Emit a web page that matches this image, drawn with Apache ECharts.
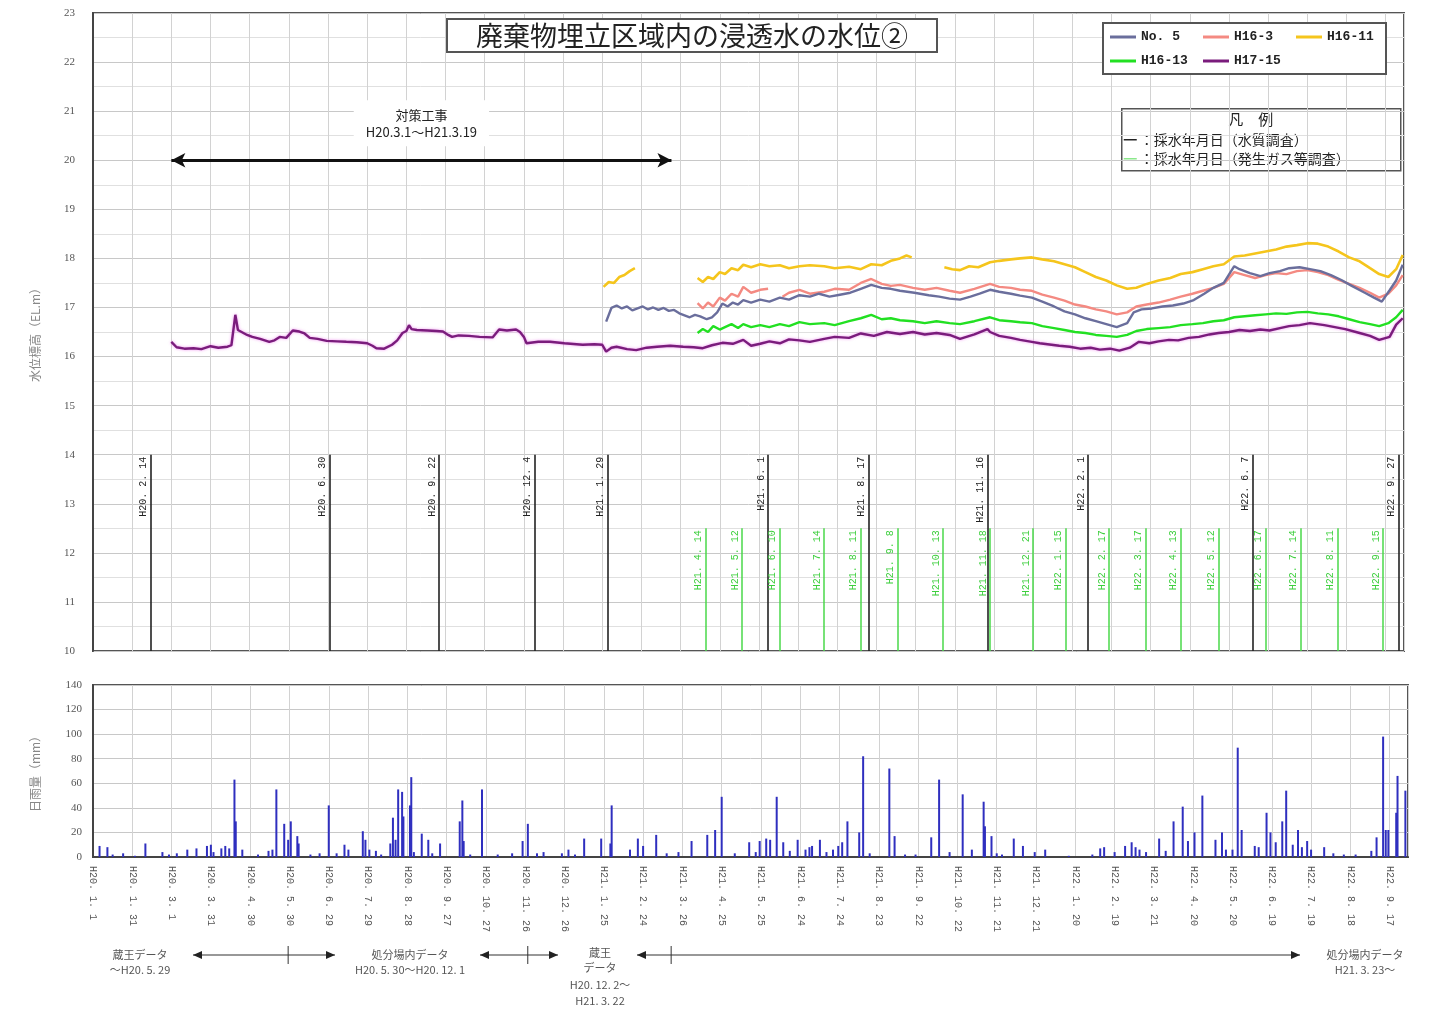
<!DOCTYPE html>
<html>
<head>
<meta charset="utf-8">
<script src="https://cdn.jsdelivr.net/npm/echarts@6/dist/echarts.min.js"></script>
<style>
html,body{margin:0;padding:0;background:#fff}
#c{width:1432px;height:1018px}
</style>
</head>
<body>
<div id="c"></div>
<script>
// ---- water level series (date, EL.m) ----
const h1715 = [
  ['2008-03-01',16.30],['2008-03-05',16.19],['2008-03-11',16.16],['2008-03-18',16.17],['2008-03-24',16.15],
  ['2008-03-31',16.21],['2008-04-06',16.18],['2008-04-13',16.20],['2008-04-16',16.23],['2008-04-19',16.85],
  ['2008-04-21',16.54],['2008-04-28',16.44],['2008-05-02',16.40],['2008-05-08',16.36],['2008-05-15',16.30],
  ['2008-05-19',16.33],['2008-05-23',16.40],['2008-05-28',16.38],['2008-06-02',16.53],['2008-06-07',16.51],
  ['2008-06-11',16.47],['2008-06-15',16.38],['2008-06-21',16.36],['2008-06-28',16.32],['2008-07-06',16.31],
  ['2008-07-13',16.30],['2008-07-21',16.29],['2008-07-29',16.27],['2008-08-02',16.22],['2008-08-05',16.17],
  ['2008-08-11',16.16],['2008-08-17',16.24],['2008-08-21',16.33],['2008-08-25',16.48],['2008-08-28',16.52],
  ['2008-08-30',16.64],['2008-09-01',16.56],['2008-09-05',16.54],['2008-09-13',16.53],['2008-09-20',16.52],
  ['2008-09-25',16.51],['2008-09-29',16.44],['2008-10-02',16.40],['2008-10-07',16.43],['2008-10-15',16.42],
  ['2008-10-23',16.40],['2008-11-02',16.39],['2008-11-07',16.55],['2008-11-13',16.53],['2008-11-20',16.55],
  ['2008-11-23',16.50],['2008-11-26',16.40],['2008-11-28',16.27],['2008-12-07',16.30],['2008-12-16',16.30],
  ['2008-12-27',16.27],['2009-01-10',16.24],['2009-01-19',16.25],['2009-01-25',16.24],['2009-01-28',16.10],
  ['2009-02-01',16.18],['2009-02-05',16.20],['2009-02-13',16.15],['2009-02-20',16.13],['2009-02-28',16.18],
  ['2009-03-08',16.20],['2009-03-18',16.22],['2009-03-28',16.20],['2009-04-05',16.19],['2009-04-12',16.17],
  ['2009-04-19',16.23],['2009-04-27',16.28],['2009-05-05',16.26],['2009-05-13',16.34],['2009-05-19',16.22],
  ['2009-05-26',16.26],['2009-06-02',16.31],['2009-06-10',16.27],['2009-06-17',16.35],['2009-06-25',16.33],
  ['2009-07-03',16.30],['2009-07-14',16.36],['2009-07-22',16.40],['2009-08-02',16.38],['2009-08-11',16.47],
  ['2009-08-21',16.42],['2009-08-31',16.50],['2009-09-10',16.46],['2009-09-20',16.50],['2009-09-29',16.45],
  ['2009-10-08',16.48],['2009-10-18',16.44],['2009-10-26',16.36],['2009-11-06',16.45],['2009-11-16',16.56],
  ['2009-11-18',16.50],['2009-11-25',16.42],['2009-12-04',16.38],['2009-12-11',16.34],['2009-12-20',16.30],
  ['2009-12-26',16.27],['2010-01-04',16.24],['2010-01-10',16.22],['2010-01-18',16.20],['2010-01-26',16.16],
  ['2010-02-03',16.18],['2010-02-10',16.14],['2010-02-18',16.16],['2010-02-25',16.12],['2010-03-05',16.18],
  ['2010-03-12',16.30],['2010-03-20',16.27],['2010-03-27',16.31],['2010-04-04',16.34],['2010-04-11',16.33],
  ['2010-04-19',16.38],['2010-04-27',16.40],['2010-05-05',16.45],['2010-05-12',16.48],['2010-05-20',16.50],
  ['2010-05-28',16.54],['2010-06-05',16.52],['2010-06-13',16.55],['2010-06-20',16.53],['2010-06-28',16.58],
  ['2010-07-05',16.62],['2010-07-13',16.64],['2010-07-21',16.68],['2010-08-01',16.64],['2010-08-09',16.60],
  ['2010-08-17',16.56],['2010-08-28',16.48],['2010-09-05',16.42],['2010-09-12',16.34],['2010-09-20',16.40],
  ['2010-09-25',16.65],['2010-09-30',16.78]
];

const no5 = [
  ['2009-01-28',16.71],['2009-02-01',16.99],['2009-02-05',17.04],['2009-02-09',16.98],['2009-02-13',17.02],
  ['2009-02-17',16.94],['2009-02-21',16.98],['2009-02-25',17.02],['2009-03-01',16.96],['2009-03-05',17.00],
  ['2009-03-09',16.95],['2009-03-13',16.99],['2009-03-17',16.93],['2009-03-21',16.95],['2009-03-25',16.88],
  ['2009-03-29',16.84],['2009-04-02',16.80],['2009-04-06',16.85],['2009-04-10',16.82],['2009-04-15',16.76],
  ['2009-04-19',16.80],['2009-04-23',16.90],['2009-04-27',17.08],['2009-05-01',17.02],['2009-05-05',17.10],
  ['2009-05-09',17.06],['2009-05-13',17.15],['2009-05-19',17.10],['2009-05-26',17.16],['2009-06-02',17.12],
  ['2009-06-10',17.20],['2009-06-17',17.16],['2009-06-25',17.25],['2009-07-03',17.22],['2009-07-10',17.28],
  ['2009-07-18',17.22],['2009-07-26',17.26],['2009-08-03',17.30],['2009-08-11',17.38],['2009-08-19',17.46],
  ['2009-08-27',17.40],['2009-09-03',17.38],['2009-09-10',17.34],['2009-09-21',17.30],['2009-10-02',17.25],
  ['2009-10-10',17.22],['2009-10-18',17.18],['2009-10-26',17.16],['2009-11-03',17.22],['2009-11-10',17.28],
  ['2009-11-18',17.36],['2009-11-25',17.32],['2009-12-04',17.28],['2009-12-11',17.24],['2009-12-20',17.20],
  ['2009-12-28',17.12],['2010-01-06',17.02],['2010-01-14',16.92],['2010-01-22',16.86],['2010-01-30',16.78],
  ['2010-02-07',16.72],['2010-02-15',16.66],['2010-02-23',16.60],['2010-03-03',16.68],['2010-03-08',16.90],
  ['2010-03-14',16.96],['2010-03-22',16.98],['2010-03-30',17.02],['2010-04-07',17.04],['2010-04-15',17.08],
  ['2010-04-23',17.15],['2010-05-01',17.28],['2010-05-08',17.40],['2010-05-16',17.50],['2010-05-24',17.84],
  ['2010-05-28',17.78],['2010-06-05',17.70],['2010-06-13',17.64],['2010-06-20',17.70],['2010-06-28',17.74],
  ['2010-07-05',17.80],['2010-07-13',17.82],['2010-07-21',17.78],['2010-07-29',17.74],['2010-08-06',17.66],
  ['2010-08-14',17.56],['2010-08-22',17.44],['2010-09-01',17.30],['2010-09-08',17.20],['2010-09-14',17.12],
  ['2010-09-20',17.35],['2010-09-25',17.55],['2010-09-30',17.87]
];

const h163 = [
  ['2009-04-08',17.09],['2009-04-12',16.98],['2009-04-16',17.10],['2009-04-20',17.02],['2009-04-25',17.20],
  ['2009-04-29',17.14],['2009-05-04',17.28],['2009-05-09',17.22],['2009-05-13',17.42],['2009-05-19',17.30],
  ['2009-05-26',17.36],['2009-06-01',17.38],['2009-06-04',null],['2009-06-12',17.22],['2009-06-17',17.30],
  ['2009-06-25',17.36],['2009-07-03',17.28],['2009-07-14',17.32],['2009-07-22',17.38],['2009-08-02',17.36],
  ['2009-08-11',17.50],['2009-08-19',17.58],['2009-08-27',17.48],['2009-09-03',17.44],['2009-09-10',17.46],
  ['2009-09-20',17.40],['2009-09-29',17.36],['2009-10-08',17.40],['2009-10-18',17.34],['2009-10-26',17.30],
  ['2009-11-06',17.38],['2009-11-18',17.48],['2009-11-25',17.42],['2009-12-04',17.40],['2009-12-11',17.36],
  ['2009-12-20',17.34],['2009-12-28',17.26],['2010-01-06',17.20],['2010-01-14',17.14],['2010-01-22',17.06],
  ['2010-01-30',17.02],['2010-02-07',16.96],['2010-02-15',16.92],['2010-02-23',16.86],['2010-03-03',16.90],
  ['2010-03-10',17.02],['2010-03-18',17.06],['2010-03-27',17.10],['2010-04-05',17.16],['2010-04-13',17.22],
  ['2010-04-22',17.28],['2010-04-30',17.34],['2010-05-08',17.40],['2010-05-16',17.48],['2010-05-24',17.72],
  ['2010-06-01',17.66],['2010-06-09',17.60],['2010-06-17',17.66],['2010-06-25',17.70],['2010-07-03',17.68],
  ['2010-07-11',17.74],['2010-07-19',17.76],['2010-07-27',17.72],['2010-08-04',17.66],['2010-08-12',17.56],
  ['2010-08-20',17.48],['2010-08-28',17.40],['2010-09-05',17.30],['2010-09-12',17.20],['2010-09-19',17.28],
  ['2010-09-25',17.45],['2010-09-30',17.66]
];

const h1611 = [
  ['2009-01-26',17.42],['2009-01-30',17.52],['2009-02-03',17.50],['2009-02-07',17.62],['2009-02-11',17.66],
  ['2009-02-15',17.74],['2009-02-19',17.80],['2009-02-20',null],
  ['2009-04-08',17.60],['2009-04-12',17.52],['2009-04-16',17.62],['2009-04-20',17.58],['2009-04-25',17.72],
  ['2009-04-29',17.68],['2009-05-04',17.80],['2009-05-09',17.76],['2009-05-13',17.87],['2009-05-19',17.82],
  ['2009-05-26',17.88],['2009-06-02',17.84],['2009-06-10',17.86],['2009-06-17',17.80],['2009-06-25',17.84],
  ['2009-07-03',17.86],['2009-07-14',17.84],['2009-07-22',17.80],['2009-08-02',17.83],['2009-08-11',17.78],
  ['2009-08-19',17.88],['2009-08-27',17.86],['2009-09-03',17.95],['2009-09-10',18.00],['2009-09-15',18.06],
  ['2009-09-19',18.02],['2009-09-20',null],
  ['2009-10-14',17.82],['2009-10-20',17.78],['2009-10-26',17.76],['2009-11-02',17.84],['2009-11-09',17.82],
  ['2009-11-18',17.92],['2009-11-25',17.95],['2009-12-04',17.98],['2009-12-11',18.00],['2009-12-20',18.02],
  ['2009-12-28',17.98],['2010-01-06',17.94],['2010-01-14',17.88],['2010-01-22',17.82],['2010-01-30',17.72],
  ['2010-02-07',17.62],['2010-02-15',17.55],['2010-02-23',17.45],['2010-03-03',17.38],['2010-03-10',17.40],
  ['2010-03-18',17.48],['2010-03-27',17.55],['2010-04-05',17.60],['2010-04-13',17.68],['2010-04-22',17.72],
  ['2010-04-30',17.78],['2010-05-08',17.84],['2010-05-16',17.88],['2010-05-24',18.04],['2010-06-01',18.06],
  ['2010-06-09',18.10],['2010-06-17',18.14],['2010-06-25',18.18],['2010-07-03',18.24],['2010-07-11',18.27],
  ['2010-07-19',18.31],['2010-07-27',18.30],['2010-08-04',18.24],['2010-08-12',18.14],['2010-08-20',18.02],
  ['2010-08-28',17.94],['2010-09-05',17.80],['2010-09-12',17.68],['2010-09-19',17.62],['2010-09-25',17.78],
  ['2010-09-30',18.07]
];

const h1613 = [
  ['2009-04-08',16.48],['2009-04-12',16.56],['2009-04-16',16.50],['2009-04-20',16.62],['2009-04-25',16.55],
  ['2009-04-29',16.60],['2009-05-04',16.66],['2009-05-09',16.58],['2009-05-13',16.66],['2009-05-19',16.60],
  ['2009-05-26',16.64],['2009-06-02',16.60],['2009-06-10',16.66],['2009-06-17',16.62],['2009-06-25',16.70],
  ['2009-07-03',16.66],['2009-07-14',16.68],['2009-07-22',16.64],['2009-08-02',16.72],['2009-08-11',16.78],
  ['2009-08-19',16.85],['2009-08-27',16.76],['2009-09-03',16.78],['2009-09-10',16.74],['2009-09-20',16.72],
  ['2009-09-29',16.68],['2009-10-08',16.72],['2009-10-18',16.68],['2009-10-26',16.66],['2009-11-06',16.72],
  ['2009-11-18',16.80],['2009-11-25',16.74],['2009-12-04',16.72],['2009-12-11',16.70],['2009-12-20',16.68],
  ['2009-12-28',16.62],['2010-01-06',16.58],['2010-01-14',16.54],['2010-01-22',16.50],['2010-01-30',16.48],
  ['2010-02-07',16.44],['2010-02-15',16.42],['2010-02-23',16.40],['2010-03-03',16.44],['2010-03-10',16.52],
  ['2010-03-18',16.56],['2010-03-27',16.58],['2010-04-05',16.60],['2010-04-13',16.64],['2010-04-22',16.66],
  ['2010-04-30',16.68],['2010-05-08',16.72],['2010-05-16',16.74],['2010-05-24',16.80],['2010-06-01',16.82],
  ['2010-06-09',16.84],['2010-06-17',16.86],['2010-06-25',16.88],['2010-07-03',16.87],['2010-07-11',16.90],
  ['2010-07-19',16.91],['2010-07-27',16.88],['2010-08-04',16.86],['2010-08-12',16.82],['2010-08-20',16.76],
  ['2010-08-28',16.70],['2010-09-05',16.66],['2010-09-12',16.62],['2010-09-19',16.68],['2010-09-25',16.80],
  ['2010-09-30',16.95]
];

// ---- sampling dates ----
const qualityDates = ['2008-02-14','2008-06-30','2008-09-22','2008-12-04','2009-01-29','2009-06-01',
  '2009-08-17','2009-11-16','2010-02-01','2010-06-07','2010-09-27'];
const gasDates = ['2009-04-14','2009-05-12','2009-06-10','2009-07-14','2009-08-11','2009-09-08',
  '2009-10-13','2009-11-18','2009-12-21','2010-01-15','2010-02-17','2010-03-17','2010-04-13',
  '2010-05-12','2010-06-17','2010-07-14','2010-08-11','2010-09-15'];
const worksPeriod = ['2008-03-01','2009-03-19'];

// ---- rainfall data source periods (switch dates) ----
const sourceSwitches = ['2008-05-29','2008-12-01','2009-03-22'];

// ---- daily rainfall (mm) ----
const rain = [
  ['2008-01-06',9],['2008-01-12',8],['2008-01-16',2],['2008-01-24',3],['2008-02-02',1],['2008-02-10',11],
  ['2008-02-23',4],['2008-02-28',2],['2008-03-05',3],['2008-03-13',6],['2008-03-20',7],['2008-03-28',9],
  ['2008-03-31',10],['2008-04-02',4],['2008-04-08',7],['2008-04-11',9],['2008-04-14',7],['2008-04-18',63],
  ['2008-04-19',29],['2008-04-24',6],['2008-05-06',2],['2008-05-14',5],['2008-05-17',6],['2008-05-20',55],
  ['2008-05-26',27],['2008-05-29',14],['2008-05-31',29],['2008-06-05',17],['2008-06-06',11],['2008-06-15',2],
  ['2008-06-22',3],['2008-06-29',42],['2008-07-05',3],['2008-07-11',10],['2008-07-14',6],['2008-07-25',21],
  ['2008-07-27',14],['2008-07-30',6],['2008-08-04',5],['2008-08-08',2],['2008-08-15',11],['2008-08-17',32],
  ['2008-08-19',14],['2008-08-21',55],['2008-08-24',53],['2008-08-25',33],['2008-08-30',42],['2008-08-31',65],
  ['2008-09-02',4],['2008-09-08',19],['2008-09-13',14],['2008-09-16',3],['2008-09-22',11],['2008-10-07',29],
  ['2008-10-09',46],['2008-10-10',13],['2008-10-15',2],['2008-10-24',55],['2008-11-05',2],['2008-11-16',3],
  ['2008-11-24',13],['2008-11-28',27],['2008-12-05',3],['2008-12-10',4],['2008-12-24',3],['2008-12-29',6],
  ['2009-01-03',2],['2009-01-10',15],['2009-01-23',15],['2009-01-30',11],['2009-01-31',42],['2009-02-14',6],
  ['2009-02-20',15],['2009-02-24',9],['2009-03-06',18],['2009-03-14',3],['2009-03-23',4],['2009-04-02',13],
  ['2009-04-14',18],['2009-04-20',22],['2009-04-25',49],['2009-05-05',3],['2009-05-16',12],['2009-05-21',4],
  ['2009-05-24',13],['2009-05-29',15],['2009-06-01',14],['2009-06-06',49],['2009-06-11',12],['2009-06-16',5],
  ['2009-06-22',14],['2009-06-28',6],['2009-07-01',8],['2009-07-03',9],['2009-07-09',14],['2009-07-14',4],
  ['2009-07-19',6],['2009-07-23',9],['2009-07-26',12],['2009-07-30',29],['2009-08-08',20],['2009-08-11',82],
  ['2009-08-16',3],['2009-08-31',72],['2009-09-04',17],['2009-09-12',2],['2009-09-20',2],['2009-10-02',16],
  ['2009-10-08',63],['2009-10-16',4],['2009-10-26',51],['2009-11-02',6],['2009-11-11',45],['2009-11-12',25],
  ['2009-11-17',17],['2009-11-21',3],['2009-11-25',2],['2009-12-04',15],['2009-12-11',9],['2009-12-20',4],
  ['2009-12-28',6],['2010-01-15',1],['2010-02-02',2],['2010-02-08',7],['2010-02-11',8],['2010-02-19',4],
  ['2010-02-27',9],['2010-03-04',12],['2010-03-07',8],['2010-03-10',6],['2010-03-15',4],['2010-03-25',15],
  ['2010-03-30',5],['2010-04-05',29],['2010-04-12',41],['2010-04-16',13],['2010-04-21',20],['2010-04-27',50],
  ['2010-05-07',14],['2010-05-12',20],['2010-05-15',6],['2010-05-20',6],['2010-05-24',89],['2010-05-27',22],
  ['2010-06-06',9],['2010-06-09',8],['2010-06-15',36],['2010-06-18',20],['2010-06-22',12],['2010-06-27',29],
  ['2010-06-30',54],['2010-07-05',10],['2010-07-09',22],['2010-07-12',8],['2010-07-16',13],['2010-07-19',6],
  ['2010-07-29',8],['2010-08-05',3],['2010-08-13',2],['2010-08-22',2],['2010-09-03',5],['2010-09-07',16],
  ['2010-09-12',98],['2010-09-14',22],['2010-09-16',22],['2010-09-22',36],['2010-09-23',66],['2010-09-29',54]
];

// ---- axis settings ----
const DAY0 = Date.UTC(2008, 0, 1);
const X_MAX = 1004;          // 2010-10-01
const X_STEP = 30;           // tick every 30 days
function dayOf(s) {
  const p = s.split('-').map(Number);
  return (Date.UTC(p[0], p[1] - 1, p[2]) - DAY0) / 864e5;
}
function heisei(day) {
  const t = new Date(DAY0 + day * 864e5);
  return 'H' + (t.getUTCFullYear() - 1988) + '. ' + (t.getUTCMonth() + 1) + '. ' + t.getUTCDate();
}
function heiseiStr(s) { return heisei(dayOf(s)); }
const toXY = arr => arr.map(d => [dayOf(d[0]), d[1]]);

const MONO = "'Liberation Mono', 'DejaVu Sans Mono', monospace";
const JP = "'Noto Sans CJK JP', sans-serif";
const SERIF = "'Liberation Serif', serif";

// layout of the two plot areas
const W = 1432;
const TOP_GRID = { left: 93, right: 28, top: 13, height: 638 };
const BOT_GRID = { left: 93, right: 24, top: 685, height: 172 };
const botX = s => BOT_GRID.left + (W - BOT_GRID.left - BOT_GRID.right) * dayOf(s) / X_MAX;

// vertical sampling-date marks and the construction arrow
const markItems = [];
qualityDates.forEach(s => {
  const d = dayOf(s);
  markItems.push([
    { coord: [d, 10], symbol: 'none',
      lineStyle: { color: '#222', width: 1.6, type: 'solid' },
      label: { show: true, position: 'insideEndTop', formatter: heiseiStr(s), color: '#222',
               fontFamily: MONO, fontSize: 10, distance: 2 } },
    { coord: [d, 14], symbol: 'none' }
  ]);
});
gasDates.forEach(s => {
  const d = dayOf(s);
  markItems.push([
    { coord: [d, 10], symbol: 'none',
      lineStyle: { color: '#4ad94a', width: 1.5, type: 'solid' },
      label: { show: true, position: 'insideEndTop', formatter: heiseiStr(s), color: '#3ccf3c',
               fontFamily: MONO, fontSize: 10, distance: 2 } },
    { coord: [d, 12.5], symbol: 'none' }
  ]);
});
markItems.push([
  { coord: [dayOf(worksPeriod[0]), 20], symbol: 'arrow', symbolSize: [11, 14],
    lineStyle: { color: '#111', width: 3, type: 'solid' },
    label: { show: true, position: 'middle', distance: 14,
             formatter: '対策工事\nH20.3.1～H21.3.19', color: '#222', fontFamily: JP, fontSize: 13,
             lineHeight: 17, backgroundColor: '#fff', padding: [6, 12] } },
  { coord: [dayOf(worksPeriod[1]), 20], symbol: 'arrow', symbolSize: [11, 14] }
]);

// annotation graphics: 凡例 box and rainfall source periods
const graphics = [];
graphics.push({ type: 'group', left: 1121, top: 108, silent: true, children: [
  { type: 'rect', shape: { x: 0, y: 0, width: 279, height: 62 },
    style: { fill: '#fff', stroke: '#555', lineWidth: 1.5 } },
  { type: 'text', x: 129, y: 11, style: { text: '凡　例', font: "15px 'Noto Sans CJK JP'",
    fill: '#222', align: 'center', verticalAlign: 'middle' } },
  { type: 'line', shape: { x1: 2, y1: 31, x2: 15, y2: 31 }, style: { stroke: '#222', lineWidth: 1.5 } },
  { type: 'text', x: 18, y: 31, style: { text: '：採水年月日（水質調査）', font: "14px 'Noto Sans CJK JP'",
    fill: '#222', verticalAlign: 'middle' } },
  { type: 'line', shape: { x1: 2, y1: 50, x2: 15, y2: 50 }, style: { stroke: '#8be88b', lineWidth: 1.5 } },
  { type: 'text', x: 18, y: 50, style: { text: '：採水年月日（発生ガス等調査）', font: "14px 'Noto Sans CJK JP'",
    fill: '#222', verticalAlign: 'middle' } }
]});
(function () {
  const y = 955;
  const txt = (x, yy, t) => graphics.push({ type: 'text', x: x, y: yy, silent: true,
    style: { text: t, font: "11px 'Noto Sans CJK JP'", fill: '#555', align: 'center', verticalAlign: 'middle' } });
  const head = (x, dir) => graphics.push({ type: 'polygon', silent: true,
    shape: { points: [[x, y], [x - dir * 9, y - 4], [x - dir * 9, y + 4]] }, style: { fill: '#222' } });
  const arrow = (x1, x2, xt) => {
    graphics.push({ type: 'line', silent: true, shape: { x1: x1, y1: y, x2: x2, y2: y },
      style: { stroke: '#333', lineWidth: 1.2 } });
    graphics.push({ type: 'line', silent: true, shape: { x1: xt, y1: y - 9, x2: xt, y2: y + 9 },
      style: { stroke: '#333', lineWidth: 1 } });
    head(x1, -1); head(x2, 1);
  };
  arrow(193, 335, botX(sourceSwitches[0]));
  arrow(480, 558, botX(sourceSwitches[1]) - 4);
  arrow(637, 1300, botX(sourceSwitches[2]) - 6);
  txt(140, 955, '蔵王データ'); txt(140, 970, '～H20. 5. 29');
  txt(410, 955, '処分場内データ'); txt(410, 970, 'H20. 5. 30～H20. 12. 1');
  txt(600, 953, '蔵王'); txt(600, 968, 'データ'); txt(600, 985, 'H20. 12. 2～'); txt(600, 1001, 'H21. 3. 22');
  txt(1365, 955, '処分場内データ'); txt(1365, 970, 'H21. 3. 23～');
})();

const lineBase = { type: 'line', xAxisIndex: 0, yAxisIndex: 0, showSymbol: false, symbol: 'none',
                   connectNulls: false, animation: false };

const chart = echarts.init(document.getElementById('c'), null, { renderer: 'canvas' });
chart.setOption({
  backgroundColor: '#fff',
  animation: false,
  title: {
    text: '廃棄物埋立区域内の浸透水の水位②',
    left: 447, top: 19, padding: [3, 29],
    borderWidth: 2, borderColor: '#555', backgroundColor: '#fff',
    textStyle: { fontFamily: JP, fontSize: 27, fontWeight: 'normal', color: '#222' }
  },
  legend: {
    data: ['No. 5', 'H16-3', 'H16-11', 'H16-13', 'H17-15'],
    left: 1103, top: 23, width: 285,
    padding: [7, 7, 6, 7], itemGap: 10, itemWidth: 26, itemHeight: 3, icon: 'rect',
    borderWidth: 2, borderColor: '#555', backgroundColor: '#fff',
    selectedMode: false,
    textStyle: { fontFamily: MONO, fontWeight: 'bold', fontSize: 13, color: '#222',
                 width: 52, lineHeight: 14 }
  },
  grid: [
    Object.assign({ show: true, borderWidth: 2, borderColor: '#555' }, TOP_GRID),
    Object.assign({ show: true, borderWidth: 2, borderColor: '#555' }, BOT_GRID)
  ],
  xAxis: [
    { type: 'value', gridIndex: 0, min: 0, max: X_MAX, interval: X_STEP,
      axisLine: { show: false }, axisTick: { show: false }, axisLabel: { show: false },
      splitLine: { show: true, lineStyle: { color: '#d2d2d2', width: 1 } } },
    { type: 'value', gridIndex: 1, min: 0, max: X_MAX, interval: X_STEP,
      axisLine: { show: true, lineStyle: { color: '#444', width: 2 } }, axisTick: { show: false },
      axisLabel: { show: true, rotate: -90, margin: 9, showMaxLabel: false, formatter: v => heisei(v),
                   fontFamily: MONO, fontSize: 10, color: '#555' },
      splitLine: { show: true, lineStyle: { color: '#d2d2d2', width: 1 } } }
  ],
  yAxis: [
    { type: 'value', gridIndex: 0, min: 10, max: 23, interval: 1,
      name: '水位標高（EL.m）', nameLocation: 'middle', nameGap: 52, nameRotate: 90,
      nameTextStyle: { fontFamily: JP, fontSize: 12, color: '#888' },
      axisLine: { show: true, lineStyle: { color: '#444', width: 2 } }, axisTick: { show: false },
      axisLabel: { fontFamily: SERIF, fontSize: 11, color: '#555', margin: 18 },
      splitLine: { show: true, lineStyle: { color: '#c8c8c8', width: 1 } },
      minorTick: { show: false, splitNumber: 2 },
      minorSplitLine: { show: true, lineStyle: { color: '#e0e0e0', width: 1 } } },
    { type: 'value', gridIndex: 1, min: 0, max: 140, interval: 20,
      name: '日雨量（mm）', nameLocation: 'middle', nameGap: 52, nameRotate: 90,
      nameTextStyle: { fontFamily: JP, fontSize: 12, color: '#888' },
      axisLine: { show: true, lineStyle: { color: '#444', width: 2 } }, axisTick: { show: false },
      axisLabel: { fontFamily: SERIF, fontSize: 11, color: '#555', margin: 11 },
      splitLine: { show: true, lineStyle: { color: '#c8c8c8', width: 1 } } }
  ],
  series: [
    Object.assign({}, lineBase, {
      name: 'H17-15', data: toXY(h1715), z: 3,
      lineStyle: { color: '#7a1c7c', width: 2.4, shadowColor: 'rgba(230,60,230,0.55)', shadowBlur: 3 },
      itemStyle: { color: '#7a1c7c' },
      markLine: { silent: true, animation: false, symbol: ['none', 'none'], data: markItems }
    }),
    Object.assign({}, lineBase, {
      name: 'H16-13', data: toXY(h1613), z: 4,
      lineStyle: { color: '#22e022', width: 2.4 }, itemStyle: { color: '#22e022' }
    }),
    Object.assign({}, lineBase, {
      name: 'H16-11', data: toXY(h1611), z: 4,
      lineStyle: { color: '#f5c51c', width: 2.6 }, itemStyle: { color: '#f5c51c' }
    }),
    Object.assign({}, lineBase, {
      name: 'H16-3', data: toXY(h163), z: 5,
      lineStyle: { color: '#f48a82', width: 2.4 }, itemStyle: { color: '#f48a82' }
    }),
    Object.assign({}, lineBase, {
      name: 'No. 5', data: toXY(no5), z: 6,
      lineStyle: { color: '#6a6e9c', width: 2.4 }, itemStyle: { color: '#6a6e9c' }
    }),
    {
      name: '日雨量', type: 'bar', xAxisIndex: 1, yAxisIndex: 1, data: toXY(rain),
      barWidth: 2, itemStyle: { color: '#2f2fbf' }, animation: false
    }
  ],
  graphic: graphics
});
</script>
</body>
</html>
